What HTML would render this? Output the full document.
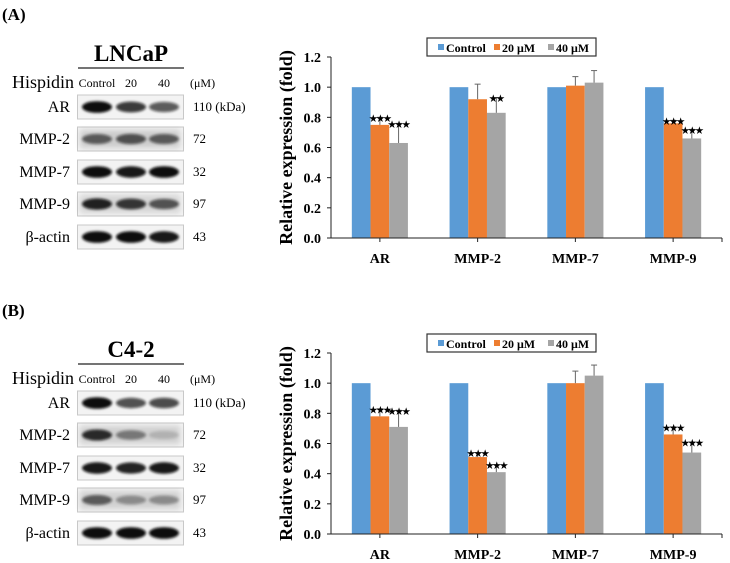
<!DOCTYPE html>
<html><head><meta charset="utf-8">
<style>
html,body{margin:0;padding:0;background:#fff;}
svg{display:block;}
svg text{font-family:"Liberation Serif","DejaVu Serif",serif;}
</style></head>
<body>
<svg id="fig" width="730" height="563" viewBox="0 0 730 563" xmlns="http://www.w3.org/2000/svg" font-family="Liberation Serif, serif">
<defs>
<filter id="blur" x="-50%" y="-100%" width="200%" height="300%"><feGaussianBlur stdDeviation="1.4"/></filter>
<filter id="haze" x="-10%" y="-50%" width="120%" height="200%"><feGaussianBlur stdDeviation="3"/></filter>
</defs>
</svg>
<script>
// ---- chart data ----
const categories = ["AR","MMP-2","MMP-7","MMP-9"];
const seriesNames = ["Control","20 μM","40 μM"];
const yTicks = [0.0,0.2,0.4,0.6,0.8,1.0,1.2];
const controlA = [1,1,1,1];
const dose20A = [0.75,0.92,1.01,0.76];
const dose40A = [0.63,0.83,1.03,0.66];
const err20A = [0.05,0.10,0.06,0.02];
const err40A = [0.13,0.10,0.08,0.06];
const star20A = ["***","","","***"];
const star40A = ["***","**","","***"];
const controlB = [1,1,1,1];
const dose20B = [0.78,0.51,1.00,0.66];
const dose40B = [0.71,0.41,1.05,0.54];
const err20B = [0.05,0.03,0.08,0.05];
const err40B = [0.11,0.05,0.07,0.07];
const star20B = ["***","***","","***"];
const star40B = ["***","***","","***"];
// ---- blot data (band darkness per lane) ----
const blotRows = ["AR","MMP-2","MMP-7","MMP-9","β-actin"];
const blotKda = ["110 (kDa)","72","32","97","43"];
const lanes = ["Control","20","40"];
const bandsA = [[1,0.8,0.65],[0.6,0.65,0.6],[1,0.95,1],[0.9,0.8,0.65],[1,1,0.95]];
const bandsB = [[1,0.7,0.72],[0.85,0.45,0.15],[0.95,0.9,0.95],[0.6,0.35,0.35],[1,1,1]];
const hazeA = [0,0.45,0,0.35,0];
const hazeB = [0,0.4,0,0.4,0];

const NS="http://www.w3.org/2000/svg";
const svg=document.getElementById('fig');
function mk(tag,attrs,parent,txt){const e=document.createElementNS(NS,tag);for(const k in attrs)e.setAttribute(k,attrs[k]);if(txt!==undefined)e.textContent=txt;(parent||svg).appendChild(e);return e;}
const colors=["#5b9bd5","#ed7d31","#a5a5a5"];

function panel(dy,label,title,bands,haze,ctrl,d20,d40,e20,e40,s20,s40){
  const g=mk('g',{transform:'translate(0,'+dy+')'});
  
  
  const pl=mk('text',{x:2,y:20,'font-size':17,'font-weight':'bold'},g,label);
  
  
  const bg=mk('g',{},g);
  
  
  const tt=mk('text',{x:131,y:61,'font-size':23,'font-weight':'bold','text-anchor':'middle'},bg,title);
  
  
  mk('line',{x1:78,y1:68,x2:184,y2:68,stroke:'#222','stroke-width':1.3},bg);
  const hs=mk('text',{x:12,y:88,'font-size':18},bg,'Hispidin');
  
  
  const laneX=[97,131,164];
  lanes.forEach((l,i)=>{const t=mk('text',{x:laneX[i],y:87,'font-size':12,'text-anchor':'middle'},bg,l);
    
    });
  const um=mk('text',{x:190,y:87,'font-size':12},bg,'(μM)');
  
  
  const rowY=[95,127,160,192,225];
  blotRows.forEach((r,ri)=>{
    const y=rowY[ri];
    const rg=mk('g',{},bg);
    
    
    mk('rect',{x:77.5,y:y,width:106,height:24,fill:'#f3f3f3',stroke:'#c8c8c8','stroke-width':1},rg);
    if(haze[ri]>0){mk('rect',{x:80,y:y+3,width:100,height:18,fill:'#000',opacity:haze[ri]*0.35,filter:'url(#haze)'},rg);}
    bands[ri].forEach((v,li)=>{
      const b=mk('ellipse',{cx:laneX[li],cy:y+12,rx:15,ry:3.8+2*v,fill:'#0a0a0a',opacity:Math.min(1,v*1.0),filter:'url(#blur)'},rg);
      
      
    });
    const rl=mk('text',{x:70,y:y+17,'font-size':16,'text-anchor':'end'},rg,r);
    
    
    const kl=mk('text',{x:193,y:y+16,'font-size':13},rg,blotKda[ri]);
    
    
  });
  const cg=mk('g',{},g);
  
  
  const x0=331,x1=722,y0=238,yTop=57,vmax=1.2;
  const ys=v=>y0-(v/vmax)*(y0-yTop);
  const step=(x1-x0)/categories.length;
  const cx=i=>x0+step*(i+0.5);
  yTicks.forEach(t=>{
    mk('line',{x1:x0-4,y1:ys(t),x2:x0,y2:ys(t),stroke:'#222'},cg);
    const tl=mk('text',{x:x0-10,y:ys(t)+5,'font-size':14,'font-weight':'bold','text-anchor':'end'},cg,t.toFixed(1));
    
    
  });
  const yt=mk('text',{transform:'translate(292,'+((y0+yTop)/2)+') rotate(-90)','font-size':18,'font-weight':'bold','text-anchor':'middle'},cg,'Relative expression (fold)');
  
  
  const series=[[ctrl,null,null],[d20,e20,s20],[d40,e40,s40]];
  const bw=18.7;
  categories.forEach((c,i)=>{
    series.forEach((s,si)=>{
      const bx=cx(i)-bw*1.5+si*bw, v=s[0][i];
      const r=mk('rect',{x:bx,y:ys(v),width:bw,height:y0-ys(v),fill:colors[si]},cg);
      
      
      if(s[1]){const top=ys(v+s[1][i]),mx=bx+bw/2;
        mk('line',{x1:mx,y1:ys(v),x2:mx,y2:top,stroke:'#666','stroke-width':1},cg);
        mk('line',{x1:mx-3,y1:top,x2:mx+3,y2:top,stroke:'#666','stroke-width':1},cg);
        if(s[2][i]){const st=mk('text',{x:mx,y:top+4,'font-size':9,'font-weight':'bold','text-anchor':'middle','letter-spacing':'-1'},cg,s[2][i].replace(/\*/g,'★'));
          
          }
      }
    });
    mk('line',{x1:cx(i),y1:y0,x2:cx(i),y2:y0+4,stroke:'#222'},cg);
    const cl=mk('text',{x:cx(i),y:y0+25,'font-size':14,'font-weight':'bold','text-anchor':'middle'},cg,c);
    
    
  });
  mk('line',{x1:x0,y1:yTop,x2:x0,y2:y0,stroke:'#222','stroke-width':1},cg);
  mk('line',{x1:x0,y1:y0,x2:x1,y2:y0,stroke:'#222','stroke-width':1},cg);
  mk('line',{x1:x1,y1:y0,x2:x1,y2:y0+4,stroke:'#222'},cg);
  const lg=mk('g',{},cg);
  
  
  mk('rect',{x:427,y:38,width:169,height:18,fill:'#fff',stroke:'#333','stroke-width':1.2},lg);
  const lx=[438,494,548];
  seriesNames.forEach((n,i)=>{
    const e=mk('g',{},lg);
    
    
    mk('rect',{x:lx[i],y:44,width:6,height:6,fill:colors[i]},e);
    mk('text',{x:lx[i]+8,y:52,'font-size':12,'font-weight':'bold'},e,n);
  });
}
panel(0,'(A)','LNCaP',bandsA,hazeA,controlA,dose20A,dose40A,err20A,err40A,star20A,star40A);
panel(296,'(B)','C4-2',bandsB,hazeB,controlB,dose20B,dose40B,err20B,err40B,star20B,star40B);
</script>
</body></html>
